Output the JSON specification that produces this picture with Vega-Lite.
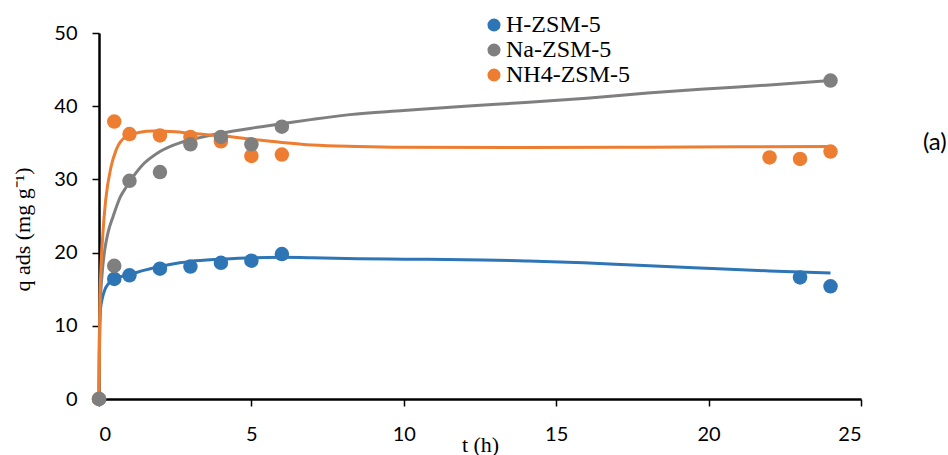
{
  "$schema": "https://vega.github.io/schema/vega-lite/v6.json",
  "width": 762,
  "height": 366,
  "autosize": {"type": "none"},
  "padding": {"left": 99, "top": 33, "right": 87, "bottom": 56},
  "background": "white",
  "title": {"text": "(a)", "orient": "top", "anchor": "end", "dx": 85, "dy": 146, "font": "Lato", "fontSize": 24, "fontWeight": "normal", "color": "black"},
  "config": {
    "view": {"stroke": null},
    "axis": {"grid": false, "domainColor": "black", "domainWidth": 2.5, "tickColor": "black", "tickWidth": 1.5, "tickSize": 7, "labelFont": "Lato", "labelFontSize": 20, "labelColor": "black", "titleFont": "Liberation Serif", "titleFontSize": 22, "titleFontWeight": "normal", "titleColor": "black"}
  },
  "datasets": {
    "obs": [
      {"series": "H-ZSM-5", "t": 0, "q": 0},
      {"series": "H-ZSM-5", "t": 0.5, "q": 16.4},
      {"series": "H-ZSM-5", "t": 1, "q": 16.9},
      {"series": "H-ZSM-5", "t": 2, "q": 17.8},
      {"series": "H-ZSM-5", "t": 3, "q": 18.1},
      {"series": "H-ZSM-5", "t": 4, "q": 18.6},
      {"series": "H-ZSM-5", "t": 5, "q": 18.9},
      {"series": "H-ZSM-5", "t": 6, "q": 19.8},
      {"series": "H-ZSM-5", "t": 23, "q": 16.6},
      {"series": "H-ZSM-5", "t": 24, "q": 15.4},
      {"series": "Na-ZSM-5", "t": 0, "q": 0},
      {"series": "Na-ZSM-5", "t": 0.5, "q": 18.2},
      {"series": "Na-ZSM-5", "t": 1, "q": 29.8},
      {"series": "Na-ZSM-5", "t": 2, "q": 31.0},
      {"series": "Na-ZSM-5", "t": 3, "q": 34.8},
      {"series": "Na-ZSM-5", "t": 4, "q": 35.8},
      {"series": "Na-ZSM-5", "t": 5, "q": 34.8},
      {"series": "Na-ZSM-5", "t": 6, "q": 37.2},
      {"series": "Na-ZSM-5", "t": 24, "q": 43.5},
      {"series": "NH4-ZSM-5", "t": 0, "q": 0},
      {"series": "NH4-ZSM-5", "t": 0.5, "q": 37.9},
      {"series": "NH4-ZSM-5", "t": 1, "q": 36.2},
      {"series": "NH4-ZSM-5", "t": 2, "q": 36.0},
      {"series": "NH4-ZSM-5", "t": 3, "q": 35.8},
      {"series": "NH4-ZSM-5", "t": 4, "q": 35.2},
      {"series": "NH4-ZSM-5", "t": 5, "q": 33.2},
      {"series": "NH4-ZSM-5", "t": 6, "q": 33.4},
      {"series": "NH4-ZSM-5", "t": 22, "q": 33.0},
      {"series": "NH4-ZSM-5", "t": 23, "q": 32.8},
      {"series": "NH4-ZSM-5", "t": 24, "q": 33.8}
    ],
    "fit": [
      {"series": "H-ZSM-5", "t": 0, "q": 0},
      {"series": "H-ZSM-5", "t": 0.005, "q": 6},
      {"series": "H-ZSM-5", "t": 0.02, "q": 10},
      {"series": "H-ZSM-5", "t": 0.05, "q": 12.3},
      {"series": "H-ZSM-5", "t": 0.1, "q": 13.6},
      {"series": "H-ZSM-5", "t": 0.19, "q": 14.9},
      {"series": "H-ZSM-5", "t": 0.3, "q": 15.7},
      {"series": "H-ZSM-5", "t": 0.46, "q": 16.3},
      {"series": "H-ZSM-5", "t": 0.7, "q": 16.7},
      {"series": "H-ZSM-5", "t": 1, "q": 17.0},
      {"series": "H-ZSM-5", "t": 1.5, "q": 17.6},
      {"series": "H-ZSM-5", "t": 2, "q": 18.1},
      {"series": "H-ZSM-5", "t": 2.65, "q": 18.6},
      {"series": "H-ZSM-5", "t": 3, "q": 18.8},
      {"series": "H-ZSM-5", "t": 4, "q": 19.1},
      {"series": "H-ZSM-5", "t": 5, "q": 19.3},
      {"series": "H-ZSM-5", "t": 6, "q": 19.35},
      {"series": "H-ZSM-5", "t": 7, "q": 19.3},
      {"series": "H-ZSM-5", "t": 8.5, "q": 19.15},
      {"series": "H-ZSM-5", "t": 10, "q": 19.1},
      {"series": "H-ZSM-5", "t": 12.6, "q": 19.0},
      {"series": "H-ZSM-5", "t": 14, "q": 18.85},
      {"series": "H-ZSM-5", "t": 15.9, "q": 18.6},
      {"series": "H-ZSM-5", "t": 17.5, "q": 18.3},
      {"series": "H-ZSM-5", "t": 19.7, "q": 17.9},
      {"series": "H-ZSM-5", "t": 22, "q": 17.5},
      {"series": "H-ZSM-5", "t": 24, "q": 17.2},
      {"series": "Na-ZSM-5", "t": 0, "q": 0},
      {"series": "Na-ZSM-5", "t": 0.02, "q": 8},
      {"series": "Na-ZSM-5", "t": 0.05, "q": 13.5},
      {"series": "Na-ZSM-5", "t": 0.1, "q": 17},
      {"series": "Na-ZSM-5", "t": 0.19, "q": 20.4},
      {"series": "Na-ZSM-5", "t": 0.3, "q": 22.8},
      {"series": "Na-ZSM-5", "t": 0.46, "q": 24.9},
      {"series": "Na-ZSM-5", "t": 0.7, "q": 27.6},
      {"series": "Na-ZSM-5", "t": 0.9, "q": 29.0},
      {"series": "Na-ZSM-5", "t": 1.39, "q": 31.8},
      {"series": "Na-ZSM-5", "t": 2, "q": 33.8},
      {"series": "Na-ZSM-5", "t": 2.65, "q": 35.0},
      {"series": "Na-ZSM-5", "t": 3, "q": 35.4},
      {"series": "Na-ZSM-5", "t": 4, "q": 36.3},
      {"series": "Na-ZSM-5", "t": 5, "q": 37.0},
      {"series": "Na-ZSM-5", "t": 6, "q": 37.6},
      {"series": "Na-ZSM-5", "t": 7, "q": 38.2},
      {"series": "Na-ZSM-5", "t": 8.23, "q": 38.85},
      {"series": "Na-ZSM-5", "t": 10, "q": 39.4},
      {"series": "Na-ZSM-5", "t": 12, "q": 40.0},
      {"series": "Na-ZSM-5", "t": 13.98, "q": 40.5},
      {"series": "Na-ZSM-5", "t": 16, "q": 41.1},
      {"series": "Na-ZSM-5", "t": 18, "q": 41.8},
      {"series": "Na-ZSM-5", "t": 19.73, "q": 42.3},
      {"series": "Na-ZSM-5", "t": 22, "q": 42.9},
      {"series": "Na-ZSM-5", "t": 24, "q": 43.5},
      {"series": "NH4-ZSM-5", "t": 0, "q": 0},
      {"series": "NH4-ZSM-5", "t": 0.03, "q": 13.5},
      {"series": "NH4-ZSM-5", "t": 0.13, "q": 22.7},
      {"series": "NH4-ZSM-5", "t": 0.22, "q": 27.2},
      {"series": "NH4-ZSM-5", "t": 0.4, "q": 31.8},
      {"series": "NH4-ZSM-5", "t": 0.57, "q": 34.1},
      {"series": "NH4-ZSM-5", "t": 0.9, "q": 35.9},
      {"series": "NH4-ZSM-5", "t": 1.3, "q": 36.4},
      {"series": "NH4-ZSM-5", "t": 1.8, "q": 36.6},
      {"series": "NH4-ZSM-5", "t": 2.5, "q": 36.5},
      {"series": "NH4-ZSM-5", "t": 3, "q": 36.3},
      {"series": "NH4-ZSM-5", "t": 4, "q": 35.95},
      {"series": "NH4-ZSM-5", "t": 5, "q": 35.5},
      {"series": "NH4-ZSM-5", "t": 6, "q": 35.05},
      {"series": "NH4-ZSM-5", "t": 7, "q": 34.7},
      {"series": "NH4-ZSM-5", "t": 8.5, "q": 34.5},
      {"series": "NH4-ZSM-5", "t": 10, "q": 34.4},
      {"series": "NH4-ZSM-5", "t": 14, "q": 34.35},
      {"series": "NH4-ZSM-5", "t": 18, "q": 34.4},
      {"series": "NH4-ZSM-5", "t": 21, "q": 34.45},
      {"series": "NH4-ZSM-5", "t": 24, "q": 34.5}
    ]
  },
  "encoding": {
    "x": {"field": "t", "type": "quantitative", "scale": {"domain": [0, 25], "nice": false}, "axis": {"values": [0, 5, 10, 15, 20, 25], "title": "t (h)", "labelPadding": 18, "titlePadding": -10}},
    "y": {"field": "q", "type": "quantitative", "scale": {"domain": [0, 50], "nice": false}, "axis": {"values": [0, 10, 20, 30, 40, 50], "title": "q ads (mg g⁻¹)", "labelPadding": 15, "titlePadding": 19, "titleY": 196}},
    "color": {"field": "series", "type": "nominal", "scale": {"domain": ["H-ZSM-5", "Na-ZSM-5", "NH4-ZSM-5"], "range": ["#2E75B6", "#7F7F7F", "#ED7D31"]}, "legend": {"title": null, "orient": "none", "legendX": 383, "legendY": -20, "padding": 0, "symbolType": "circle", "symbolSize": 170, "symbolStrokeWidth": 0, "symbolOpacity": 1, "labelFont": "Liberation Serif", "labelFontSize": 24, "labelColor": "black", "labelOffset": 0, "rowPadding": 1}}
  },
  "layer": [
    {
      "data": {"name": "fit"},
      "mark": {"type": "line", "strokeWidth": 3, "interpolate": "monotone", "clip": false},
      "encoding": {"detail": {"field": "series"}}
    },
    {
      "data": {"name": "obs"},
      "mark": {"type": "point", "filled": true, "opacity": 1, "size": 210, "shape": "circle"},
      "encoding": {"order": {"field": "series", "sort": "ascending"}}
    }
  ]
}
